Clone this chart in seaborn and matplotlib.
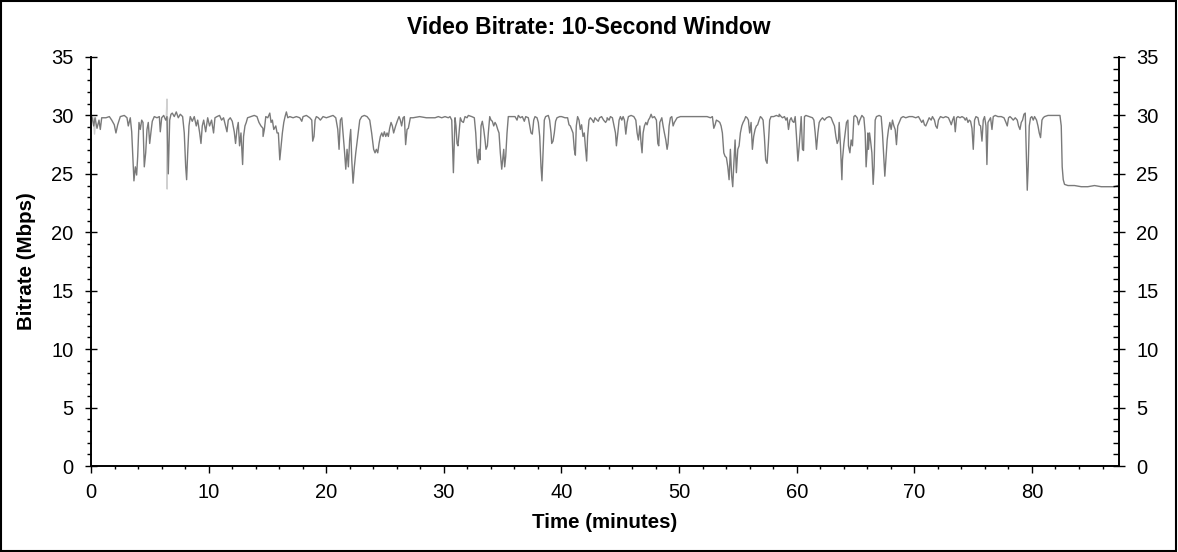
import numpy as np
import pandas as pd
import matplotlib
matplotlib.use('Agg')
import matplotlib.pyplot as plt
import seaborn as sns
from matplotlib.ticker import MultipleLocator
from matplotlib.patches import Rectangle

# ── Data (minutes / Mbps) ────────────────────────────────────────────────
seg1_t = [0.08, 0.23, 0.34, 0.51, 0.68, 0.79, 0.91, 1.27, 1.56, 1.76,
          1.98, 2.12, 2.27, 2.49, 2.83, 3.06, 3.17, 3.34, 3.46, 3.57,
          3.65, 3.77, 3.88, 3.97, 4.08, 4.19, 4.31, 4.42, 4.53, 4.65,
          4.76, 4.87, 4.99, 5.10, 5.21, 5.38, 5.61, 5.81, 5.89, 6.01,
          6.18, 6.35, 6.46, 6.57, 6.69, 6.80, 6.91, 7.08, 7.25, 7.42,
          7.59, 7.79, 7.93, 8.05, 8.13, 8.22, 8.33, 8.44, 8.61, 8.78,
          8.95, 9.07, 9.24, 9.35, 9.46, 9.58, 9.75, 9.92, 10.08, 10.25,
          10.42, 10.54, 10.71, 10.93, 11.10, 11.27, 11.44, 11.56, 11.67, 11.84,
          12.01, 12.18, 12.29, 12.41, 12.52, 12.63, 12.75, 12.89, 12.97, 13.09,
          13.20, 13.31, 13.60, 13.88, 14.11, 14.28, 14.45, 14.62]
seg1_v = [29.9, 29.1, 29.8, 28.9, 29.6, 28.8, 29.8, 29.8, 29.9, 29.6,
          29.2, 28.5, 29.2, 29.9, 30.0, 29.8, 29.1, 29.8, 28.6, 26.2,
          24.4, 25.6, 24.9, 26.5, 29.4, 28.8, 29.6, 29.4, 25.6, 26.8,
          28.8, 29.4, 27.6, 28.6, 29.5, 29.9, 29.8, 29.9, 28.6, 29.8,
          30.0, 29.6, 29.9, 25.0, 29.6, 30.1, 30.2, 29.9, 30.3, 29.8,
          30.1, 29.9, 28.5, 25.6, 24.5, 26.8, 29.1, 29.9, 29.5, 29.9,
          29.1, 29.6, 28.5, 27.6, 29.1, 29.6, 28.6, 29.8, 29.1, 29.6,
          28.5, 29.8, 29.9, 30.0, 29.6, 29.8, 29.1, 28.6, 29.6, 29.8,
          29.5, 28.6, 27.6, 28.8, 29.4, 27.4, 28.5, 25.8, 28.2, 29.1,
          29.4, 29.8, 29.9, 30.0, 29.9, 29.4, 29.1, 28.9]

seg2_t = [14.63, 14.74, 14.86, 15.03, 15.20, 15.31, 15.42, 15.54, 15.71, 15.82,
          15.93, 16.05, 16.16, 16.27, 16.39, 16.50, 16.61, 16.73, 16.90, 17.18,
          17.46, 17.75, 17.92, 18.03, 18.31, 18.60, 18.77, 18.85, 18.96, 19.05,
          19.16, 19.33, 19.50, 19.73, 20.01, 20.30, 20.58, 20.81, 20.98, 21.09,
          21.20, 21.32, 21.43, 21.54, 21.66, 21.77, 21.88, 21.99, 22.08, 22.17,
          22.28, 22.39, 22.51, 22.68, 22.85, 23.02, 23.24, 23.47, 23.70, 23.86,
          24.03, 24.15, 24.26, 24.38, 24.49, 24.60, 24.72, 24.83, 24.94, 25.06,
          25.17, 25.28, 25.39, 25.51, 25.62, 25.73, 25.90, 26.07, 26.19, 26.30,
          26.41, 26.53, 26.64, 26.75, 26.87, 26.98, 27.15, 27.38, 27.94, 28.51,
          29.08]
seg2_v = [28.2, 28.8, 29.9, 29.8, 30.2, 29.4, 29.6, 28.8, 29.1, 28.5,
          28.5, 26.2, 27.4, 28.5, 29.4, 29.9, 30.3, 29.8, 29.9, 29.8,
          29.9, 29.8, 29.5, 29.9, 30.0, 29.8, 29.6, 27.8, 28.2, 29.6,
          29.9, 29.8, 29.6, 29.9, 29.8, 29.9, 30.0, 29.8, 28.8, 27.1,
          29.6, 29.8, 28.5, 27.1, 25.4, 27.1, 25.6, 27.9, 28.8, 26.2,
          24.2, 25.6, 26.8, 28.2, 29.6, 29.9, 30.0, 29.9, 29.6, 28.5,
          27.1, 26.8, 27.1, 26.8, 27.6, 28.2, 28.5, 28.2, 28.6, 28.2,
          28.5, 28.2, 28.9, 29.4, 29.1, 28.5, 29.1, 29.6, 29.9, 29.6,
          29.1, 29.8, 29.9, 27.5, 28.8, 28.9, 29.8, 29.8, 29.9, 29.8,
          29.8]

seg3_t = [29.25, 29.53, 29.82, 30.10, 30.38, 30.52, 30.67, 30.75, 30.81, 30.89,
          30.95, 31.03, 31.12, 31.20, 31.29, 31.40, 31.52, 31.66, 31.80, 31.97,
          32.08, 32.37, 32.59, 32.71, 32.82, 32.90, 32.99, 33.07, 33.16, 33.27,
          33.39, 33.50, 33.58, 33.70, 33.78, 33.90, 34.01, 34.12, 34.24, 34.35,
          34.46, 34.58, 34.69, 34.80, 34.92, 35.00, 35.09, 35.17, 35.26, 35.37,
          35.48, 35.77, 36.05, 36.22, 36.33, 36.50, 36.67, 36.84, 36.96, 37.18,
          37.30, 37.41, 37.52, 37.64, 37.75, 37.92, 38.03, 38.15, 38.26, 38.34,
          38.43, 38.54, 38.65, 38.88, 38.99, 39.11, 39.17, 39.28, 39.39, 39.50,
          39.62, 39.84, 40.01, 40.30, 40.52, 40.64, 40.75, 40.86, 40.98, 41.09,
          41.18, 41.26, 41.37, 41.49, 41.60, 41.71, 41.83, 41.94, 42.05, 42.14,
          42.22, 42.34, 42.45, 42.62, 42.73, 42.85, 43.02, 43.13, 43.24, 43.41,
          43.58, 43.75, 43.87]
seg3_v = [29.8, 29.9, 29.8, 29.9, 29.8, 29.9, 29.6, 27.1, 25.1, 27.9,
          29.8, 29.1, 27.6, 27.4, 28.5, 29.8, 29.5, 29.4, 29.9, 29.8,
          30.0, 29.9, 29.8, 28.5, 26.5, 25.9, 27.1, 26.2, 29.1, 29.5,
          28.8, 27.9, 27.1, 27.4, 28.5, 29.9, 29.6, 29.5, 29.1, 29.4,
          29.2, 28.8, 28.5, 26.8, 25.4, 26.2, 27.1, 25.6, 26.5, 28.5,
          29.9, 29.9, 29.9, 29.6, 30.0, 29.8, 29.9, 29.5, 29.9, 29.8,
          29.1, 28.5, 28.4, 29.6, 29.9, 29.8, 29.4, 28.2, 25.6, 24.4,
          26.8, 29.6, 29.9, 30.0, 29.6, 28.5, 27.6, 27.8, 28.5, 29.5,
          29.8, 29.9, 29.9, 29.8, 29.8, 29.2, 29.1, 28.8, 28.5, 27.1,
          26.6, 29.1, 29.9, 29.6, 28.8, 29.2, 28.2, 28.5, 27.1, 26.1,
          28.2, 29.6, 29.8, 29.6, 29.4, 29.8, 29.6, 29.5, 29.8, 29.9,
          29.6, 29.4, 29.6]

seg4_t = [43.88, 44.05, 44.16, 44.33, 44.45, 44.59, 44.67, 44.79, 44.90, 45.01,
          45.13, 45.24, 45.35, 45.47, 45.58, 45.69, 45.92, 46.15, 46.32, 46.43,
          46.54, 46.66, 46.77, 46.85, 46.94, 47.05, 47.17, 47.28, 47.39, 47.51,
          47.62, 47.73, 47.90, 48.07, 48.19, 48.27, 48.36, 48.53, 48.64, 48.75,
          48.87, 48.98, 49.06, 49.15, 49.26, 49.38, 49.49, 49.60, 49.72, 49.83,
          50.11, 50.40, 50.68, 50.96, 51.25, 51.53, 51.81, 52.10, 52.38, 52.66,
          52.83, 52.95, 53.06, 53.17, 53.34, 53.46, 53.57, 53.68, 53.80, 53.91,
          54.02, 54.14, 54.25, 54.36, 54.47, 54.56, 54.64, 54.76, 54.87, 54.99,
          55.10, 55.21, 55.33, 55.44, 55.55, 55.66, 55.78, 55.89, 56.00, 56.12,
          56.23, 56.34, 56.46, 56.57, 56.68, 56.80, 56.91, 57.02, 57.14, 57.25,
          57.36, 57.48, 57.59, 57.70, 57.82, 58.04, 58.27, 58.50]
seg4_v = [29.8, 29.6, 29.9, 29.8, 29.2, 28.5, 27.4, 28.5, 29.6, 29.9,
          29.6, 29.9, 29.6, 28.4, 29.4, 29.9, 30.0, 29.9, 29.6, 28.5,
          27.9, 29.1, 27.6, 26.8, 28.5, 29.1, 29.4, 29.2, 29.6, 29.8,
          30.1, 29.8, 29.9, 29.6, 27.6, 27.4, 29.4, 29.8, 29.1, 28.5,
          27.9, 27.1, 27.6, 29.1, 29.8, 29.9, 29.1, 29.4, 29.6, 29.8,
          29.9, 29.9, 29.9, 29.9, 29.9, 29.9, 29.9, 29.9, 29.9, 29.8,
          29.9, 28.9, 29.2, 29.6, 29.5, 29.4, 29.1, 28.5, 26.8, 26.5,
          26.4, 25.6, 24.5, 27.1, 24.8, 23.9, 25.6, 27.9, 25.1, 27.1,
          27.4, 28.5, 29.1, 29.4, 29.6, 29.9, 29.8, 29.6, 28.5, 29.4,
          27.1, 28.2, 28.8, 29.1, 29.2, 29.6, 29.9, 29.8, 29.6, 28.2,
          26.2, 25.9, 27.6, 29.6, 29.9, 29.9, 30.0, 29.9]

seg5_t = [58.51, 58.68, 58.79, 58.96, 59.08, 59.19, 59.30, 59.42, 59.53, 59.64,
          59.76, 59.87, 59.98, 60.10, 60.21, 60.29, 60.38, 60.49, 60.58, 60.66,
          60.78, 61.06, 61.34, 61.46, 61.57, 61.68, 61.80, 61.91, 62.02, 62.19,
          62.36, 62.53, 62.76, 62.93, 63.04, 63.21, 63.33, 63.44, 63.55, 63.61,
          63.72, 63.84, 63.89, 64.01, 64.12, 64.23, 64.35, 64.40, 64.52, 64.63,
          64.74, 64.86, 64.97, 65.14, 65.25, 65.37, 65.54, 65.71, 65.82, 65.90,
          65.99, 66.05, 66.10, 66.19, 66.27, 66.39, 66.50, 66.58, 66.67, 66.78,
          67.01, 67.18, 67.29, 67.41, 67.49, 67.58, 67.69, 67.80, 67.92, 68.03,
          68.14, 68.26, 68.37, 68.48, 68.59, 68.71, 68.88, 69.05, 69.27, 69.56,
          69.84, 70.12, 70.35, 70.52, 70.63, 70.75, 70.86, 70.97, 71.09, 71.26,
          71.43, 71.54, 71.71, 71.82, 71.94, 72.05, 72.22, 72.45, 72.67, 72.90,
          73.07]
seg5_v = [30.1, 29.9, 29.8, 29.9, 29.6, 29.8, 28.8, 29.6, 29.8, 29.5,
          29.4, 29.9, 28.2, 26.1, 27.4, 28.5, 29.9, 27.1, 27.0, 29.9,
          30.0, 29.9, 29.8, 29.6, 28.5, 27.1, 28.5, 29.4, 29.6, 29.8,
          29.6, 29.8, 29.9, 29.8, 29.5, 29.1, 28.2, 27.6, 27.9, 29.4,
          27.4, 24.5, 26.2, 27.6, 28.5, 29.4, 29.6, 27.4, 26.8, 27.9,
          27.4, 29.9, 30.0, 29.8, 29.2, 29.6, 30.0, 29.8, 28.5, 25.6,
          27.1, 28.5, 27.1, 28.5, 27.9, 26.8, 24.1, 25.6, 29.6, 29.9,
          30.0, 29.9, 28.5, 26.2, 24.8, 26.2, 27.9, 28.8, 29.4, 28.8,
          29.6, 29.1, 28.8, 27.5, 29.1, 29.4, 29.8, 29.9, 29.8, 29.9,
          29.9, 29.8, 29.9, 29.6, 29.4, 29.6, 29.2, 29.1, 29.4, 29.8,
          29.6, 29.9, 29.6, 29.1, 28.9, 29.6, 29.9, 29.8, 29.9, 29.8,
          29.4]

seg6_t = [73.14, 73.25, 73.37, 73.48, 73.59, 73.71, 73.88, 74.05, 74.22, 74.33,
          74.44, 74.56, 74.67, 74.78, 74.90, 75.01, 75.12, 75.24, 75.41, 75.52,
          75.63, 75.75, 75.86, 75.97, 76.09, 76.17, 76.26, 76.37, 76.48, 76.60,
          76.71, 76.88, 77.11, 77.39, 77.62, 77.79, 77.90, 78.01, 78.13, 78.24,
          78.41, 78.58, 78.75, 78.86, 78.98, 79.09, 79.20, 79.32, 79.43, 79.51,
          79.60, 79.68, 79.77, 79.88, 79.99, 80.11, 80.22, 80.39, 80.51, 80.62,
          80.73, 80.85, 80.96, 81.07, 81.36, 81.64, 81.92, 82.21, 82.38, 82.49,
          82.57, 82.66, 82.77, 83.06, 83.62, 84.19, 84.75, 85.32, 85.89, 86.45,
          87.02, 87.30]
seg6_v = [29.2, 29.6, 29.9, 28.6, 29.8, 29.9, 29.8, 29.9, 29.8, 29.6,
          29.8, 29.4, 29.6, 29.5, 28.9, 27.1, 29.6, 29.9, 29.8, 29.2,
          29.1, 27.8, 29.6, 29.9, 29.1, 25.8, 29.4, 29.6, 29.8, 28.8,
          29.9, 30.0, 29.9, 29.9, 29.8, 29.4, 29.1, 29.8, 29.9, 29.8,
          29.6, 29.8, 29.6, 29.1, 28.8, 29.4, 29.6, 30.1, 30.2, 27.1,
          23.6, 25.6, 29.1, 29.8, 29.9, 29.6, 29.9, 29.6, 29.1, 28.5,
          28.1, 29.6, 29.8, 29.9, 30.0, 30.0, 30.0, 30.0, 30.0, 29.1,
          25.6, 24.5, 24.1, 24.0, 24.0, 23.9, 23.9, 24.0, 23.9, 23.9,
          23.9, 24.0]

# faint spikes of the lighter trace drawn behind the main line
light1_t = [0.20, 0.30, 0.40]
light1_v = [29.8, 28.4, 29.8]
light2_t = [6.40, 6.46, 6.47, 6.53]
light2_v = [29.9, 31.4, 23.7, 29.8]

x_ticks = [0, 10, 20, 30, 40, 50, 60, 70, 80]
y_ticks = [0, 5, 10, 15, 20, 25, 30, 35]

# ── Build frame ───────────────────────────────────────────────────────────
segs_t = [seg1_t, seg2_t, seg3_t, seg4_t, seg5_t, seg6_t]
segs_v = [seg1_v, seg2_v, seg3_v, seg4_v, seg5_v, seg6_v]
for t, v in zip(segs_t, segs_v):
    assert len(t) == len(v), (len(t), len(v))
df = pd.DataFrame({'time': sum(segs_t, []), 'bitrate': sum(segs_v, [])})

# ── Plot ──────────────────────────────────────────────────────────────────
sns.set_theme(style='white')
plt.rcParams['font.family'] = ['Liberation Sans', 'DejaVu Sans']
plt.rcParams['text.color'] = 'black'

W, H = 1178, 552
fig = plt.figure(figsize=(W / 100, H / 100), dpi=100)
ax = fig.add_axes([91 / W, 1 - 466 / H, 1028 / W, 409 / H])

for lt, lv in [(light1_t, light1_v), (light2_t, light2_v)]:
    sns.lineplot(x=lt, y=lv, ax=ax, color='#d0d0d0', lw=1,
                 estimator=None, sort=False)
sns.lineplot(data=df, x='time', y='bitrate', ax=ax, color='#7a7a7a', lw=1,
             estimator=None, sort=False)

ax.set_xlim(0, 87.4)
ax.set_ylim(0, 35)
ax.set_xticks(x_ticks)
ax.set_yticks(y_ticks)
ax.xaxis.set_minor_locator(MultipleLocator(2))
ax.yaxis.set_minor_locator(MultipleLocator(1))
ax.set_xlabel('')
ax.set_ylabel('')

ax.tick_params(axis='x', which='major', bottom=True, top=False, direction='out',
               length=5, width=1, color='black', labelsize=14.5, pad=7,
               labelcolor='black')
ax.tick_params(axis='x', which='minor', bottom=True, top=False, direction='out',
               length=2.5, width=1, color='black')
ax.tick_params(axis='y', which='major', left=True, right=False, direction='inout',
               length=9, width=1, color='black', labelsize=14.5, pad=8,
               labelcolor='black')
ax.tick_params(axis='y', which='minor', left=True, right=False, direction='out',
               length=3, width=1, color='black')

ax2 = ax.twinx()
ax2.set_ylim(0, 35)
ax2.set_yticks(y_ticks)
ax2.yaxis.set_minor_locator(MultipleLocator(1))
ax2.tick_params(axis='y', which='major', right=True, left=False, direction='inout',
                length=9, width=1, color='black', labelsize=14.5, pad=8,
                labelcolor='black')
ax2.tick_params(axis='y', which='minor', right=True, left=False, direction='in',
                length=4, width=1, color='black')

for a in (ax, ax2):
    a.spines['top'].set_visible(False)
    for s in ('left', 'right', 'bottom'):
        a.spines[s].set_color('black')
        a.spines[s].set_linewidth(1.2)

fig.text(0.5, 1 - 27 / H, 'Video Bitrate: 10-Second Window', ha='center',
         va='center', fontsize=16.5, fontweight='bold', color='black')
fig.text(605 / W, 1 - 523 / H, 'Time (minutes)', ha='center', va='center',
         fontsize=14.8, fontweight='bold', color='black')
fig.text(27 / W, 1 - 261 / H, 'Bitrate (Mbps)', ha='center', va='center',
         rotation=90, fontsize=14.8, fontweight='bold', color='black')

fig.add_artist(Rectangle((0.5 / W, 1.5 / H), (W - 2.5) / W, (H - 2.5) / H,
                         transform=fig.transFigure, fill=False,
                         edgecolor='black', linewidth=1.5))

fig.savefig('out.png', dpi=100)
